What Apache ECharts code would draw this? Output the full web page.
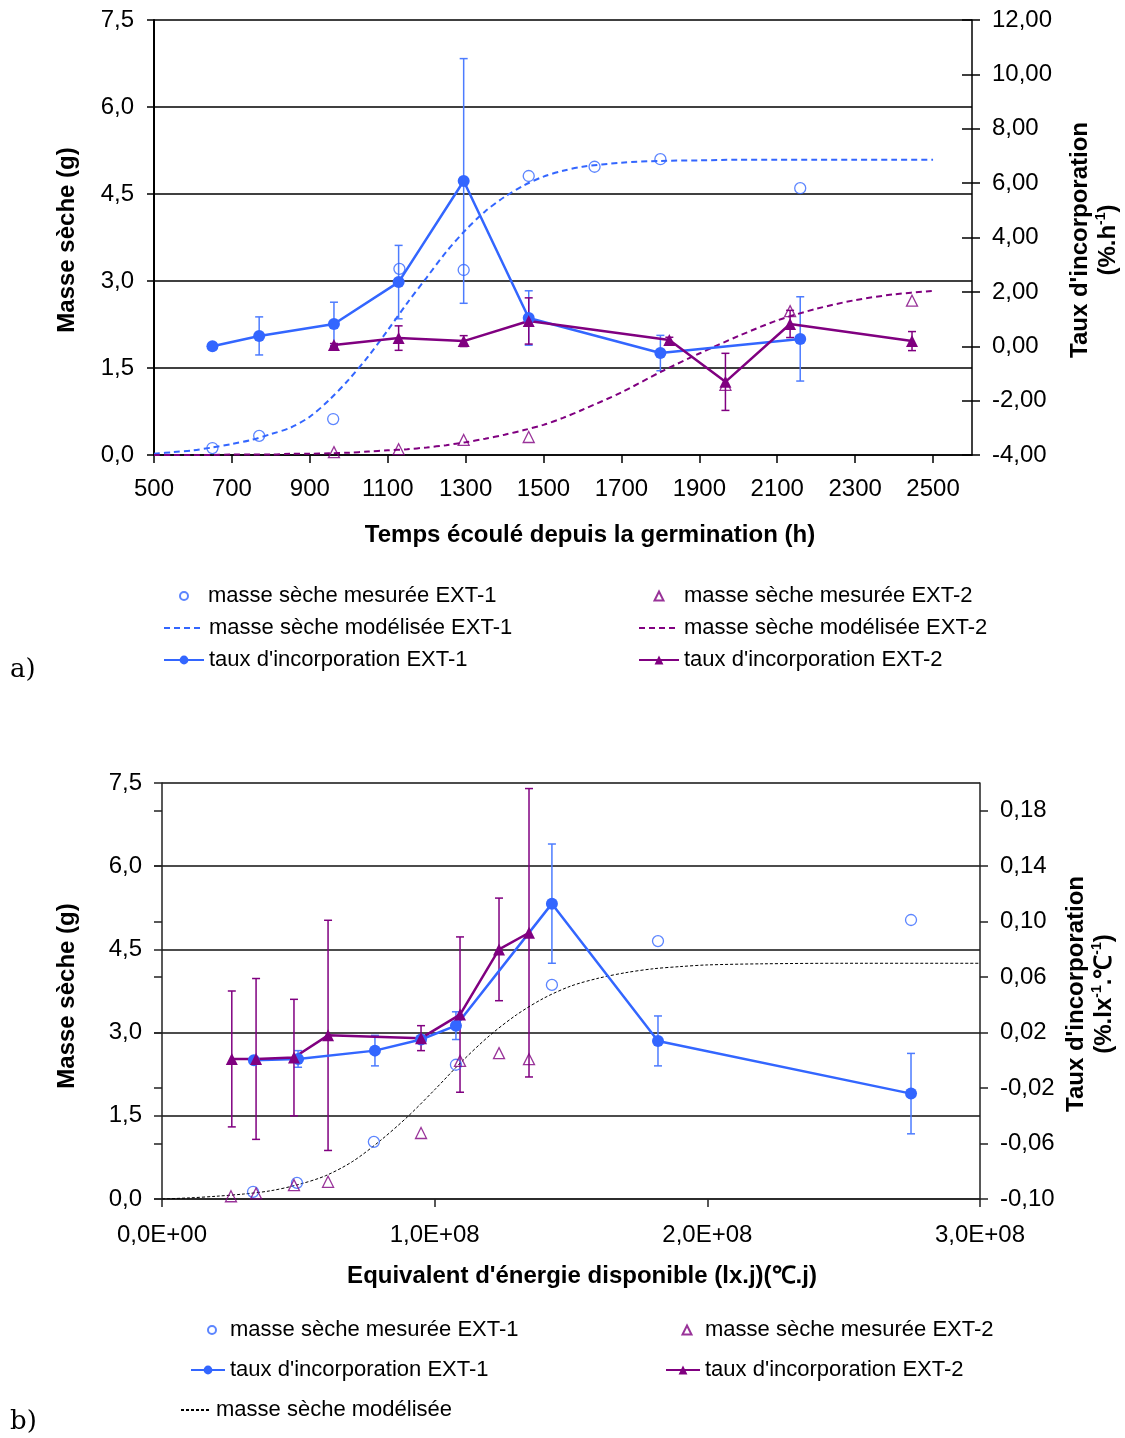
<!DOCTYPE html>
<html><head><meta charset="utf-8">
<script src="https://cdn.jsdelivr.net/npm/echarts@6/dist/echarts.min.js"></script>
<style>html,body{margin:0;padding:0;background:#fff}#c{width:1125px;height:1438px}</style>
</head><body><div id="c"></div>
<script>
// ================= DATA : chart a) (time since germination, h) =================
const hA_mes1  = [650, 770, 960, 1130, 1295, 1462, 1631, 1800, 2159];
const msA_mes1 = [0.12, 0.33, 0.62, 3.21, 3.19, 4.81, 4.97, 5.10, 4.60];
const hA_mes2  = [962, 1128, 1295, 1462, 1967, 2133, 2446];
const msA_mes2 = [0.05, 0.10, 0.26, 0.31, 1.21, 2.48, 2.66];
const hA_mod   = [500, 550, 600, 650, 700, 750, 800, 850, 900, 950, 1000, 1050, 1100, 1150, 1200, 1250, 1300, 1350, 1400, 1450, 1500, 1550, 1600, 1700, 1800, 1900, 2000, 2100, 2200, 2300, 2400, 2500];
const msA_mod1 = [0.02, 0.05, 0.08, 0.13, 0.19, 0.26, 0.36, 0.47, 0.66, 0.95, 1.30, 1.70, 2.15, 2.62, 3.06, 3.50, 3.88, 4.20, 4.45, 4.65, 4.80, 4.90, 4.97, 5.04, 5.07, 5.08, 5.09, 5.09, 5.09, 5.09, 5.09, 5.09];
const msA_mod2 = [0.00, 0.00, 0.00, 0.00, 0.01, 0.01, 0.01, 0.02, 0.02, 0.03, 0.04, 0.06, 0.08, 0.10, 0.13, 0.17, 0.22, 0.28, 0.35, 0.43, 0.52, 0.64, 0.78, 1.08, 1.43, 1.75, 2.05, 2.32, 2.52, 2.67, 2.77, 2.83];
const hA_r1    = [650, 770, 962, 1128, 1295, 1462, 1800, 2159];
const rA_1     = [0.00, 0.38, 0.82, 2.36, 6.08, 1.04, -0.25, 0.27];
const eA_1     = [0.00, 0.70, 0.80, 1.35, 4.50, 1.00, 0.65, 1.55];
const hA_r2    = [962, 1128, 1295, 1462, 1823, 1967, 2133, 2446];
const rA_2     = [0.05, 0.30, 0.19, 0.93, 0.23, -1.31, 0.82, 0.19];
const eA_2     = [0.05, 0.45, 0.20, 0.85, 0.10, 1.05, 0.50, 0.35];
const xTicksA  = [500, 700, 900, 1100, 1300, 1500, 1700, 1900, 2100, 2300, 2500];

// ================= DATA : chart b) (energy equivalent) =================
const eB_mes1  = [3.34e7, 4.95e7, 7.77e7, 1.078e8, 1.43e8, 1.819e8, 2.747e8];
const msB_mes1 = [0.13, 0.29, 1.03, 2.42, 3.86, 4.65, 5.03];
const eB_mes2  = [2.53e7, 3.45e7, 4.84e7, 6.09e7, 9.5e7, 1.093e8, 1.236e8, 1.346e8];
const msB_mes2 = [0.05, 0.10, 0.25, 0.31, 1.19, 2.49, 2.63, 2.52];
const eB_mod   = [0, 1e7, 2e7, 3e7, 4e7, 5e7, 6e7, 7e7, 8e7, 9e7, 1e8, 1.1e8, 1.2e8, 1.3e8, 1.4e8, 1.5e8, 1.6e8, 1.7e8, 1.8e8, 1.9e8, 2e8, 2.2e8, 2.5e8, 3e8];
const msB_mod  = [0.00, 0.02, 0.05, 0.09, 0.15, 0.26, 0.42, 0.68, 1.05, 1.48, 1.97, 2.48, 2.94, 3.32, 3.62, 3.84, 3.98, 4.08, 4.15, 4.19, 4.22, 4.24, 4.25, 4.25];
const eB_r1    = [3.37e7, 4.99e7, 7.81e7, 9.5e7, 1.078e8, 1.43e8, 1.819e8, 2.747e8];
const rB_1     = [0.000, 0.001, 0.007, 0.015, 0.025, 0.113, 0.014, -0.024];
const erB_1    = [0.000, 0.006, 0.011, 0.000, 0.010, 0.043, 0.018, 0.029];
const eB_r2    = [2.56e7, 3.45e7, 4.84e7, 6.09e7, 9.5e7, 1.093e8, 1.236e8, 1.346e8];
const rB_2     = [0.001, 0.001, 0.002, 0.018, 0.016, 0.033, 0.080, 0.092];
const erB_2    = [0.049, 0.058, 0.042, 0.083, 0.009, 0.056, 0.037, 0.104];
const yTicksBR = [-0.10, -0.06, -0.02, 0.02, 0.06, 0.10, 0.14, 0.18];

// ================= helpers =================
const FONT = "'Liberation Sans', Arial, sans-serif";
const BLUE = '#3366ff', PURPLE = '#800080', BLUE_ERR = '#4d7cff';
const zip = (a, b) => a.map((v, i) => [v, b[i]]);
const errData = (x, y, e) => x.map((v, i) => [v, y[i] - e[i], y[i] + e[i]]);
const comma = (d) => (v) => v.toFixed(d).replace('.', ',').replace('-0,00', '0,00');
const sciFmt = (v) => {
  if (v === 0) return '0,0E+00';
  const e = Math.floor(Math.log10(v) + 1e-9);
  const m = v / Math.pow(10, e);
  return m.toFixed(1).replace('.', ',') + 'E+' + String(e).padStart(2, '0');
};
function errRender(color) {
  return function (params, api) {
    const x = api.value(0), lo = api.value(1), hi = api.value(2);
    if (hi - lo <= 0) return null;
    const p1 = api.coord([x, hi]), p2 = api.coord([x, lo]);
    const w = 4, st = { stroke: color, lineWidth: 1.5 };
    return { type: 'group', children: [
      { type: 'line', shape: { x1: p1[0], y1: p1[1], x2: p2[0], y2: p2[1] }, style: st },
      { type: 'line', shape: { x1: p1[0] - w, y1: p1[1], x2: p1[0] + w, y2: p1[1] }, style: st },
      { type: 'line', shape: { x1: p2[0] - w, y1: p2[1], x2: p2[0] + w, y2: p2[1] }, style: st }
    ] };
  };
}
const labelStyle = { fontFamily: FONT, fontSize: 24, color: '#000' };
const lgText = { fontFamily: FONT, fontSize: 22, color: '#000', lineHeight: 24 };
// legend cell for a line series: icon box [left, left+w], text at left+w+5
const lg = (name, left, cy, w, h, itemStyle) => ({
  data: [itemStyle ? { name, itemStyle } : name], left, top: cy - 12, itemWidth: w, itemHeight: h,
  padding: 0, selectedMode: false, orient: 'horizontal', textStyle: lgText
});
// legend cell for a scatter series: symbol centred at cx, text starting at tx
const lgSym = (name, icon, cx, tx, cy, s) => ({
  data: [{ name, icon }], left: cx - s / 2, top: cy - 12, itemWidth: s, itemHeight: s,
  padding: 0, selectedMode: false, orient: 'horizontal',
  textStyle: Object.assign({ padding: [0, 0, 0, tx - (cx + s / 2) - 5] }, lgText)
});

const gridA = { left: 154, top: 20, width: 818, height: 435 };
const gridB = { left: 162, top: 783, width: 818, height: 416 };
const SMOOTH = 0.3;

const option = {
  backgroundColor: '#fff',
  animation: false,
  grid: [gridA, gridB, Object.assign({}, gridA), Object.assign({}, gridB)],
  xAxis: [
    { gridIndex: 0, type: 'value', min: 500, max: 2600,
      axisLine: { lineStyle: { color: '#000', width: 1.5 } },
      axisTick: { customValues: xTicksA, length: 8, lineStyle: { color: '#000', width: 1.5 } },
      axisLabel: Object.assign({ customValues: xTicksA, margin: 22, formatter: (v) => String(v) }, labelStyle),
      splitLine: { show: false } },
    { gridIndex: 1, type: 'value', min: 0, max: 3e8, interval: 1e8,
      axisLine: { lineStyle: { color: '#222', width: 1.5 } },
      axisTick: { length: 8, lineStyle: { color: '#222', width: 1.5 } },
      axisLabel: Object.assign({ formatter: sciFmt, margin: 24 }, labelStyle),
      splitLine: { show: false } },
    { gridIndex: 2, type: 'value', min: 500, max: 2600, show: false },
    { gridIndex: 3, type: 'value', min: 0, max: 3e8, show: false }
  ],
  yAxis: [
    { gridIndex: 0, type: 'value', position: 'left', min: 0, max: 7.5, interval: 1.5,
      axisLine: { show: true, lineStyle: { color: '#000', width: 2 } },
      axisTick: { show: true, length: 7, lineStyle: { color: '#000', width: 1.5 } },
      axisLabel: Object.assign({ formatter: comma(1), margin: 20 }, labelStyle),
      splitLine: { show: true, lineStyle: { color: '#000', width: 1.5 } } },
    { gridIndex: 0, type: 'value', position: 'right', min: -4, max: 12, interval: 2,
      axisLine: { show: true, lineStyle: { color: '#000', width: 1.5 } },
      axisTick: { show: true, length: 8, lineStyle: { color: '#000', width: 1.5 } },
      axisLabel: Object.assign({ formatter: comma(2), margin: 20 }, labelStyle),
      splitLine: { show: false } },
    { gridIndex: 1, type: 'value', position: 'left', min: 0, max: 7.5, interval: 1.5,
      axisLine: { show: true, lineStyle: { color: '#222', width: 1.5 } },
      axisTick: { show: true, length: 8, lineStyle: { color: '#222', width: 1.5 } },
      axisLabel: Object.assign({ formatter: comma(1), margin: 20 }, labelStyle),
      splitLine: { show: true, lineStyle: { color: '#111', width: 1.5 } } },
    { gridIndex: 1, type: 'value', position: 'right', min: -0.10, max: 0.20,
      axisLine: { show: true, lineStyle: { color: '#222', width: 1.5 } },
      axisTick: { show: true, length: 8, customValues: yTicksBR, lineStyle: { color: '#222', width: 1.5 } },
      axisLabel: Object.assign({ formatter: comma(2), margin: 20, customValues: yTicksBR }, labelStyle),
      splitLine: { show: false } },
    { gridIndex: 2, type: 'value', position: 'right', min: -4, max: 12, interval: 2,
      axisLine: { show: false }, axisLabel: { show: false }, splitLine: { show: false },
      axisTick: { show: true, inside: true, length: 10, lineStyle: { color: '#000', width: 1.5 } } },
    { gridIndex: 3, type: 'value', position: 'right', min: -0.10, max: 0.20,
      axisLine: { show: false }, axisLabel: { show: false }, splitLine: { show: false },
      axisTick: { show: true, inside: true, length: 8, customValues: yTicksBR, lineStyle: { color: '#222', width: 1.5 } } }
  ],
  legend: [
    lgSym('masse sèche mesurée EXT-1', 'circle', 183, 207, 596, 8),
    lg('masse sèche modélisée EXT-1', 163, 628, 40, 11, { opacity: 0 }),
    lg("taux d'incorporation EXT-1", 163, 660, 40, 11),
    lgSym('masse sèche mesurée EXT-2', 'triangle', 658, 683, 596, 9),
    lg('masse sèche modélisée EXT-2', 638, 628, 40, 11, { opacity: 0 }),
    lg("taux d'incorporation EXT-2", 638, 660, 40, 11),
    lgSym('masse sèche mesurée EXT-1', 'circle', 211, 229, 1330, 8),
    lg("taux d'incorporation EXT-1", 190, 1370, 34, 11),
    lgSym('masse sèche mesurée EXT-2', 'triangle', 686, 704, 1330, 9),
    lg("taux d'incorporation EXT-2", 665, 1370, 34, 11),
    lg('masse sèche modélisée', 180, 1410, 30, 11, { opacity: 0 })
  ],
  graphic: [
    { type: 'text', x: 67, y: 240, rotation: Math.PI / 2,
      style: { text: 'Masse sèche (g)', fontFamily: FONT, fontSize: 24, fontWeight: 'bold', fill: '#000', align: 'center', verticalAlign: 'middle' } },
    { type: 'text', x: 67, y: 996, rotation: Math.PI / 2,
      style: { text: 'Masse sèche (g)', fontFamily: FONT, fontSize: 24, fontWeight: 'bold', fill: '#000', align: 'center', verticalAlign: 'middle' } },
    { type: 'text', x: 590, y: 535,
      style: { text: 'Temps écoulé depuis la germination (h)', fontFamily: FONT, fontSize: 24, fontWeight: 'bold', fill: '#000', align: 'center', verticalAlign: 'middle' } },
    { type: 'text', x: 582, y: 1276,
      style: { text: "Equivalent d'énergie disponible (lx.j)(℃.j)", fontFamily: FONT, fontSize: 24, fontWeight: 'bold', fill: '#000', align: 'center', verticalAlign: 'middle' } },
    { type: 'text', x: 1094, y: 240, rotation: Math.PI / 2,
      style: { text: "{t|Taux d'incorporation}\n{t|(%.h}{s|-1}{t|)}", align: 'center', verticalAlign: 'middle', fill: '#000',
        rich: { t: { fontFamily: FONT, fontSize: 24, fontWeight: 'bold', lineHeight: 28, fill: '#000' },
                s: { fontFamily: FONT, fontSize: 14, fontWeight: 'bold', lineHeight: 28, verticalAlign: 'top', fill: '#000' } } } },
    { type: 'text', x: 1090, y: 994, rotation: Math.PI / 2,
      style: { text: "{t|Taux d'incorporation}\n{t|(%.lx}{s|-1}{t|.℃}{s|-1}{t|)}", align: 'center', verticalAlign: 'middle', fill: '#000',
        rich: { t: { fontFamily: FONT, fontSize: 24, fontWeight: 'bold', lineHeight: 28, fill: '#000' },
                s: { fontFamily: FONT, fontSize: 14, fontWeight: 'bold', lineHeight: 28, verticalAlign: 'top', fill: '#000' } } } },
    { type: 'text', x: 10, y: 670,
      style: { text: 'a)', fontFamily: "'DejaVu Serif', serif", fontSize: 26, fill: '#000', align: 'left', verticalAlign: 'middle' } },
    { type: 'text', x: 10, y: 1422,
      style: { text: 'b)', fontFamily: "'DejaVu Serif', serif", fontSize: 26, fill: '#000', align: 'left', verticalAlign: 'middle' } }
  ],
  series: [
    // ---- chart a ----
    { type: 'custom', name: 'errA1', xAxisIndex: 0, yAxisIndex: 1, renderItem: errRender(BLUE_ERR), data: errData(hA_r1, rA_1, eA_1), z: 2, silent: true },
    { type: 'custom', name: 'errA2', xAxisIndex: 0, yAxisIndex: 1, renderItem: errRender(PURPLE), data: errData(hA_r2, rA_2, eA_2), z: 2, silent: true },
    { type: 'line', name: 'masse sèche modélisée EXT-1', xAxisIndex: 0, yAxisIndex: 0, data: zip(hA_mod, msA_mod1),
      symbol: 'none', smooth: SMOOTH, lineStyle: { color: BLUE, width: 2, type: [6, 4] }, itemStyle: { color: BLUE }, z: 3 },
    { type: 'line', name: 'masse sèche modélisée EXT-2', xAxisIndex: 0, yAxisIndex: 0, data: zip(hA_mod, msA_mod2),
      symbol: 'none', smooth: SMOOTH, lineStyle: { color: PURPLE, width: 2, type: [6, 4] }, itemStyle: { color: PURPLE }, z: 3 },
    { type: 'scatter', name: 'masse sèche mesurée EXT-1', xAxisIndex: 0, yAxisIndex: 0, data: zip(hA_mes1, msA_mes1),
      symbol: 'circle', symbolSize: 11, itemStyle: { color: 'rgba(255,255,255,0)', borderColor: BLUE, borderWidth: 1.3 }, z: 4 },
    { type: 'scatter', name: 'masse sèche mesurée EXT-2', xAxisIndex: 0, yAxisIndex: 0, data: zip(hA_mes2, msA_mes2),
      symbol: 'triangle', symbolSize: 11, itemStyle: { color: 'rgba(255,255,255,0)', borderColor: PURPLE, borderWidth: 1.3 }, z: 4 },
    { type: 'line', name: "taux d'incorporation EXT-1", xAxisIndex: 0, yAxisIndex: 1, data: zip(hA_r1, rA_1),
      symbol: 'circle', symbolSize: 12, lineStyle: { color: BLUE, width: 2.5 }, itemStyle: { color: BLUE }, z: 5 },
    { type: 'line', name: "taux d'incorporation EXT-2", xAxisIndex: 0, yAxisIndex: 1, data: zip(hA_r2, rA_2),
      symbol: 'triangle', symbolSize: 12, lineStyle: { color: PURPLE, width: 2.5 }, itemStyle: { color: PURPLE }, z: 5 },
    // ---- chart b ----
    { type: 'custom', name: 'errB1', xAxisIndex: 1, yAxisIndex: 3, renderItem: errRender(BLUE_ERR), data: errData(eB_r1, rB_1, erB_1), z: 2, silent: true },
    { type: 'custom', name: 'errB2', xAxisIndex: 1, yAxisIndex: 3, renderItem: errRender(PURPLE), data: errData(eB_r2, rB_2, erB_2), z: 2, silent: true },
    { type: 'line', name: 'masse sèche modélisée', xAxisIndex: 1, yAxisIndex: 2, data: zip(eB_mod, msB_mod),
      symbol: 'none', smooth: SMOOTH, lineStyle: { color: '#000', width: 1, type: [3, 2] }, itemStyle: { color: '#000' }, z: 3 },
    { type: 'scatter', name: 'masse sèche mesurée EXT-1', xAxisIndex: 1, yAxisIndex: 2, data: zip(eB_mes1, msB_mes1),
      symbol: 'circle', symbolSize: 11, itemStyle: { color: 'rgba(255,255,255,0)', borderColor: BLUE, borderWidth: 1.3 }, z: 4 },
    { type: 'scatter', name: 'masse sèche mesurée EXT-2', xAxisIndex: 1, yAxisIndex: 2, data: zip(eB_mes2, msB_mes2),
      symbol: 'triangle', symbolSize: 11, itemStyle: { color: 'rgba(255,255,255,0)', borderColor: PURPLE, borderWidth: 1.3 }, z: 4 },
    { type: 'line', name: "taux d'incorporation EXT-1", xAxisIndex: 1, yAxisIndex: 3, data: zip(eB_r1, rB_1),
      symbol: 'circle', symbolSize: 12, lineStyle: { color: BLUE, width: 2.5 }, itemStyle: { color: BLUE }, z: 5 },
    { type: 'line', name: "taux d'incorporation EXT-2", xAxisIndex: 1, yAxisIndex: 3, data: zip(eB_r2, rB_2),
      symbol: 'triangle', symbolSize: 12, lineStyle: { color: PURPLE, width: 2.5 }, itemStyle: { color: PURPLE }, z: 5 }
  ]
};
const chart = echarts.init(document.getElementById('c'), null, { renderer: 'canvas' });
chart.setOption(option);
</script></body></html>
